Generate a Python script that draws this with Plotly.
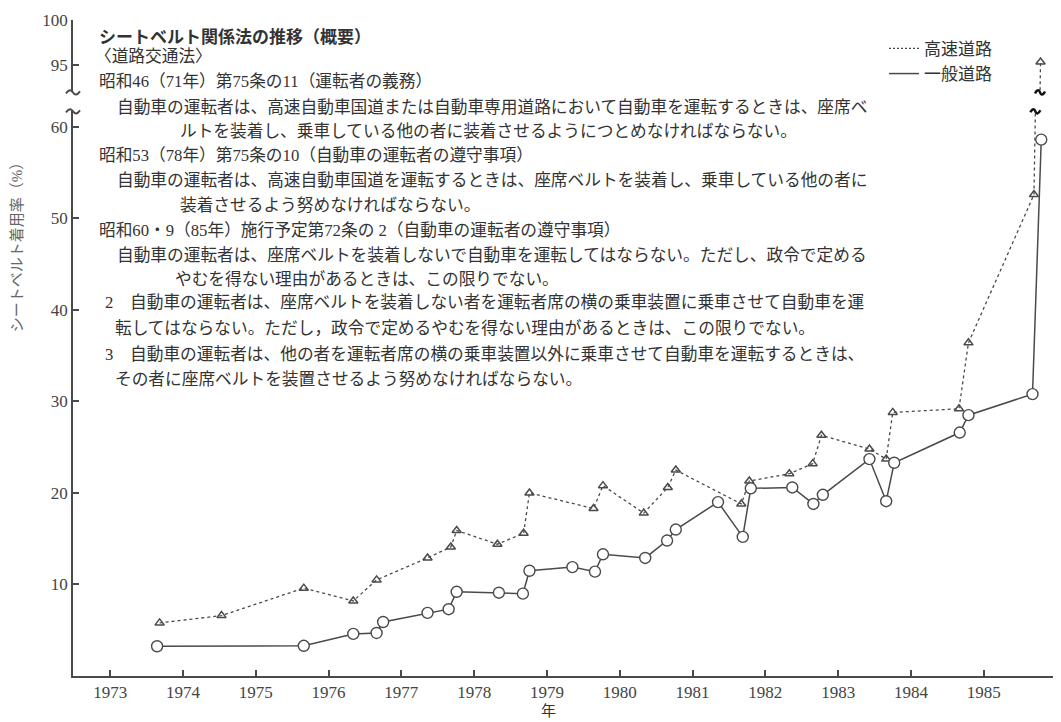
import numpy as np
import plotly.graph_objects as go

# ---------------- data ----------------
hw_year = [1973.68, 1974.53, 1975.66, 1976.34, 1976.66, 1977.36, 1977.68, 1977.76,
           1978.32, 1978.68, 1978.76, 1979.64, 1979.77, 1980.33, 1980.66, 1980.77,
           1981.67, 1981.78, 1982.33, 1982.65, 1982.77, 1983.43, 1983.66, 1983.75,
           1984.66, 1984.79, 1985.69, 1985.78]
hw_rate = [5.8, 6.6, 9.6, 8.2, 10.5, 12.9, 14.1, 15.9,
           14.4, 15.6, 20.0, 18.3, 20.8, 17.8, 20.6, 22.5,
           18.8, 21.3, 22.1, 23.2, 26.3, 24.8, 23.7, 28.8,
           29.2, 36.4, 52.6, 95.3]

gen_year = [1973.645, 1975.66, 1976.34, 1976.66, 1976.75, 1977.36, 1977.65, 1977.76,
            1978.34, 1978.67, 1978.76, 1979.35, 1979.66, 1979.77, 1980.35, 1980.65,
            1980.77, 1981.35, 1981.69, 1981.80, 1982.37, 1982.66, 1982.79, 1983.43,
            1983.66, 1983.77, 1984.67, 1984.79, 1985.67, 1985.79]
gen_rate = [3.25, 3.3, 4.6, 4.7, 5.9, 6.9, 7.3, 9.2,
            9.1, 9.0, 11.5, 11.9, 11.4, 13.3, 12.9, 14.8,
            16.0, 19.0, 15.2, 20.5, 20.6, 18.8, 19.8, 23.7,
            19.1, 23.3, 26.6, 28.5, 30.8, 58.6]

year_ticks = list(range(1973, 1986))
low_ticks = [10, 20, 30, 40, 50, 60]
high_ticks = [95, 100]

series_names = ["高速道路", "一般道路"]
y_title = "シートベルト着用率（%）"
x_title = "年"

text_lines = [
    "<b>シートベルト関係法の推移（概要）</b>",
    "〈道路交通法〉",
    "昭和46（71年）第75条の11（運転者の義務）",
    "自動車の運転者は、高速自動車国道または自動車専用道路において自動車を運転するときは、座席ベ",
    "ルトを装着し、乗車している他の者に装着させるようにつとめなければならない。",
    "昭和53（78年）第75条の10（自動車の運転者の遵守事項）",
    "自動車の運転者は、高速自動車国道を運転するときは、座席ベルトを装着し、乗車している他の者に",
    "装着させるよう努めなければならない。",
    "昭和60・9（85年）施行予定第72条の 2（自動車の運転者の遵守事項）",
    "自動車の運転者は、座席ベルトを装着しないで自動車を運転してはならない。ただし、政令で定める",
    "やむを得ない理由があるときは、この限りでない。",
    "2　自動車の運転者は、座席ベルトを装着しない者を運転者席の横の乗車装置に乗車させて自動車を運",
    "転してはならない。ただし，政令で定めるやむを得ない理由があるときは、この限りでない。",
    "3　自動車の運転者は、他の者を運転者席の横の乗車装置以外に乗車させて自動車を運転するときは、",
    "その者に座席ベルトを装置させるよう努めなければならない。",
]
# layout positions of the text lines (page pixels)
text_x = [97, 93, 97, 115, 178, 97, 115, 178, 97, 115, 173, 103, 113, 103, 113]
text_y = [33, 52, 77, 103, 127, 152, 177, 202, 227, 252, 276, 300, 326, 352, 377]

# ---------------- layout geometry ----------------
# the page body has an 8px margin; the figure is sized so the plot area
# lands at page x 73..1058 and y 15..676
OFF = 8
W, H = 1053, 714
ML, MR, MT, MB = 65, 3, 7, 46
PL, PT = OFF + ML, OFF + MT
PW, PH = W - ML - MR, H - MT - MB
PB = PT + PH
low_top_px, up_bot_px = 107, 88


def px(x):
    return (x - PL) / PW


def py(y):
    return (PB - y) / PH


low_dom = [0, py(low_top_px)]
up_dom = [py(up_bot_px), 1]
LOW_MAX, UP_MIN = 61.7, 91.9

SERIF = "Liberation Serif, Noto Sans CJK JP, serif"
TXT = "#333333"
LINE = "#4a4a4a"

fig = go.Figure()

hw_line = dict(color=LINE, width=1.3, dash="3px,3px")
hw_marker = dict(symbol="triangle-up-open", size=8, color=LINE, line=dict(width=1.5, color=LINE))
for ya in ["y", "y2"]:
    fig.add_trace(go.Scatter(x=hw_year, y=hw_rate, yaxis=ya, mode="lines+markers",
                             line=hw_line, marker=hw_marker, showlegend=False,
                             name=series_names[0]))

fig.add_trace(go.Scatter(x=gen_year, y=gen_rate, yaxis="y", mode="lines+markers",
                         line=dict(color=LINE, width=1.5),
                         marker=dict(symbol="circle", size=11, color="white",
                                     line=dict(width=1.4, color=LINE)),
                         showlegend=False, name=series_names[1]))

# legend entries (line samples only)
fig.add_trace(go.Scatter(x=[None], y=[None], mode="lines", name=series_names[0],
                         line=dict(color=LINE, width=1.3, dash="2px,2px")))
fig.add_trace(go.Scatter(x=[None], y=[None], mode="lines", name=series_names[1],
                         line=dict(color=LINE, width=1.5)))

axis_common = dict(showline=True, linecolor=LINE, linewidth=1.5, ticks="inside",
                   ticklen=6, tickwidth=1.5, tickcolor=LINE, showgrid=False,
                   zeroline=False, tickfont=dict(family=SERIF, size=17, color="#444"))

fig.update_layout(
    width=W, height=H,
    margin=dict(l=ML, r=MR, t=MT, b=MB),
    paper_bgcolor="white", plot_bgcolor="white",
    xaxis=dict(range=[1972.49, 1986.02], tickvals=year_ticks, anchor="y", **axis_common),
    yaxis=dict(domain=low_dom, range=[0, LOW_MAX], tickvals=low_ticks, anchor="x",
               ticklabelstandoff=0, **axis_common),
    yaxis2=dict(domain=up_dom, range=[UP_MIN, 100], tickvals=high_ticks, anchor="x",
                ticklabelstandoff=0, ticklabeloverflow="allow", **axis_common),
    legend=dict(x=px(884), y=py(26), xanchor="left", yanchor="top",
                font=dict(family=SERIF, size=17, color=TXT), itemwidth=30,
                bgcolor="rgba(0,0,0,0)", tracegroupgap=0),
)

ann = []
for i, t in enumerate(text_lines):
    ann.append(dict(text=t, x=px(text_x[i]), y=py(text_y[i]), xref="paper", yref="paper",
                    xanchor="left", yanchor="middle", showarrow=False,
                    font=dict(family=SERIF, size=17 if i == 0 else 16.7, color=TXT)))
ann.append(dict(text=x_title, x=px(548), y=py(711), xref="paper", yref="paper",
                xanchor="center", yanchor="middle", showarrow=False,
                font=dict(family=SERIF, size=15, color=TXT)))
ann.append(dict(text=y_title, x=px(17), y=py(240), xref="paper", yref="paper",
                xanchor="center", yanchor="middle", textangle=-90, showarrow=False,
                font=dict(family=SERIF, size=15, color="#666")))
fig.update_layout(annotations=ann)

# break marks
wave = "M-7,-1 C-4,3 -2,3 0,0 C2,-3 4,-3 7,1"
shapes = []
for yd in [low_dom[1], up_dom[0]]:
    shapes.append(dict(type="path", path=wave, xref="paper", yref="paper",
                       xsizemode="pixel", ysizemode="pixel", xanchor=0, yanchor=yd,
                       line=dict(color=LINE, width=2)))
# where the highway line crosses the break
seg_x, seg_y = hw_year[-2:], hw_rate[-2:]
for yv, yd in [(LOW_MAX, low_dom[1]), (UP_MIN, up_dom[0])]:
    xc = float(np.interp(yv, seg_y, seg_x))
    shapes.append(dict(type="path", path="M-5,-1 C-3,3 -1,3 0,0 C1,-3 3,-3 5,1",
                       xref="x", yref="paper", xsizemode="pixel", ysizemode="pixel",
                       xanchor=xc, yanchor=yd, line=dict(color="#111", width=2.5)))
fig.update_layout(shapes=shapes)

fig.write_html("out.html")
